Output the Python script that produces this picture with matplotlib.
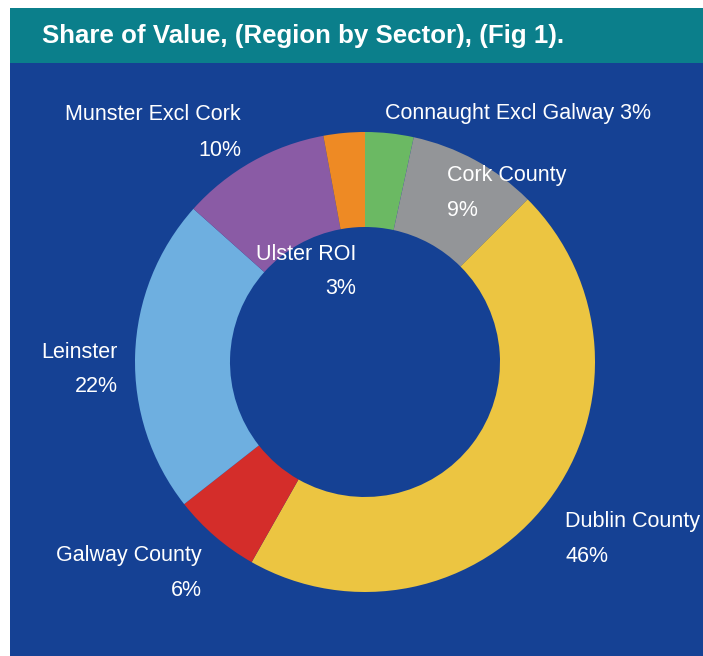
import matplotlib.pyplot as plt
from matplotlib.patches import Rectangle

# data (share of value, %)
regions = [
    "Connaught Excl Galway",
    "Cork County",
    "Dublin County",
    "Galway County",
    "Leinster",
    "Munster Excl Cork",
    "Ulster ROI",
]
shares = [3.4, 9.1, 45.7, 6.2, 22.2, 10.5, 2.9]
pct_labels = ["3%", "9%", "46%", "6%", "22%", "10%", "3%"]
colors = ["#6bb963", "#939598", "#ecc541", "#d42d2a", "#6eafe0", "#8a5ba5", "#ee8a24"]

W, H = 703, 656
TEAL = "#0b7f8b"
BLUE = "#154194"

fig = plt.figure(figsize=(W / 100, H / 100), dpi=100)
fig.patch.set_facecolor("white")

ax = fig.add_axes([0, 0, 1, 1])


def py(y):
    # pixel row (from top) -> data y
    return H - y


# header bar and panel
ax.add_patch(Rectangle((10, py(63)), W - 10, 55, facecolor=TEAL, edgecolor="none", zorder=0))
ax.add_patch(Rectangle((10, 0), W - 10, py(63), facecolor=BLUE, edgecolor="none", zorder=0))
ax.text(42, py(36), "Share of Value, (Region by Sector), (Fig 1).", color="white",
        fontsize=18.6, fontweight="bold", family="Liberation Sans", va="center", ha="left")

# donut
ax.pie(shares, colors=colors, startangle=90, counterclock=False,
       center=(365, py(362)), radius=230, frame=True,
       wedgeprops=dict(width=95, edgecolor="none", linewidth=0))
ax.set_xlim(0, W)
ax.set_ylim(0, H)
ax.set_aspect("equal")
ax.axis("off")

lab = dict(color="white", fontsize=15.5, family="Liberation Sans", va="center")

ax.text(385, py(113), f"{regions[0]} {pct_labels[0]}", ha="left", **lab)
ax.text(447, py(175), regions[1], ha="left", **lab)
ax.text(447, py(211), pct_labels[1], ha="left", **lab)
ax.text(565, py(521), regions[2], ha="left", **lab)
ax.text(565, py(556), pct_labels[2], ha="left", **lab)
ax.text(202, py(556), regions[3], ha="right", **lab)
ax.text(202, py(591), pct_labels[3], ha="right", **lab)
ax.text(118, py(352), regions[4], ha="right", **lab)
ax.text(118, py(387), pct_labels[4], ha="right", **lab)
ax.text(241, py(115), regions[5], ha="right", **lab)
ax.text(241, py(150), pct_labels[5], ha="right", **lab)
ax.text(356, py(255), regions[6], ha="right", **lab)
ax.text(356, py(289), pct_labels[6], ha="right", **lab)

fig.savefig("out.png", dpi=100)
